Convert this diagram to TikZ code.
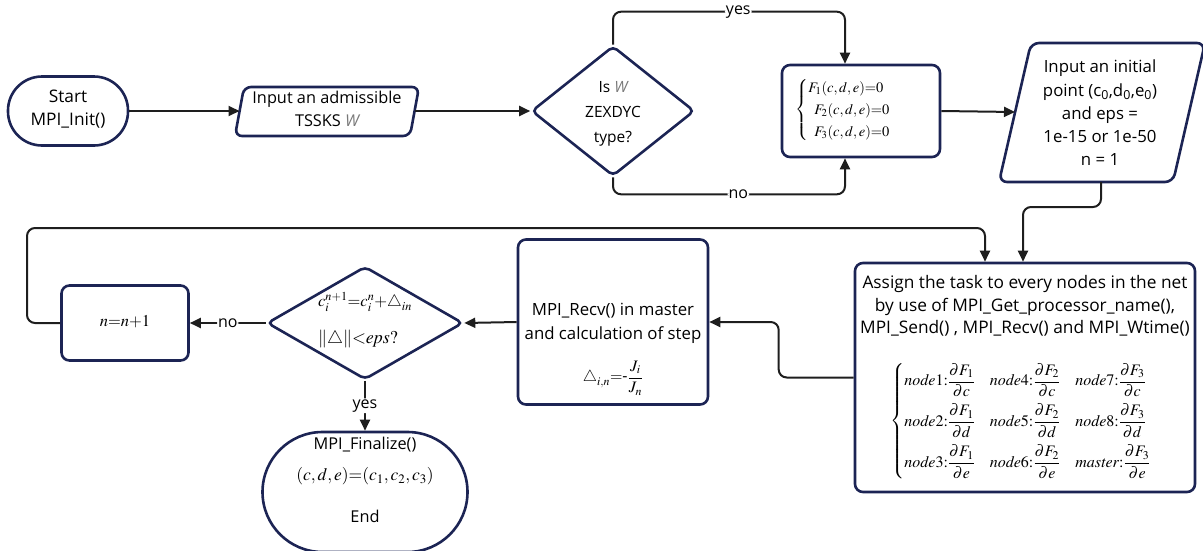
\documentclass[tikz,border=0pt]{standalone}
\usepackage{amsmath}
\usepackage{mathptmx}
\usepackage[no-math]{fontspec}
\setmainfont{Open Sans}
\usetikzlibrary{shapes.geometric,arrows.meta}
\definecolor{navy}{RGB}{28,36,84}
\definecolor{wgray}{RGB}{120,120,120}
\definecolor{lcol}{RGB}{30,30,30}
\tikzset{
  outl/.style={draw=navy,line width=2.6pt},
  rbox/.style={outl,rectangle,rounded corners=8pt,inner sep=0pt},
  dia/.style={outl,diamond,rounded corners=5pt,inner sep=0pt},
  txt/.style={font=\fontsize{16.3}{23}\selectfont,align=center,inner sep=0pt},
  conn/.style={line width=2pt,draw=lcol,rounded corners=8pt},
  arr/.style={conn,-{Triangle[length=11pt,width=10pt]}},
  lab/.style={fill=white,inner sep=1pt,font=\fontsize{16}{18}\selectfont}
}
\newcommand{\gW}{{\color{wgray}\itshape W}}
\newcommand{\tri}{{\bigtriangleup}}
\begin{document}
\begin{tikzpicture}[x=1pt,y=-1pt]
\useasboundingbox (0,0) rectangle (1203,550);
% shapes
\node[rbox,rounded corners=34pt,minimum width=120pt,minimum height=69pt] (start) at (68,111) {};
\node[txt,font=\fontsize{17.3}{23}\selectfont] (starttxt) at (68,109) {Start\\MPI\_Init()};
% parallelogram 1
\coordinate (in1w) at (239.5,111);
\coordinate (in1e) at (414.5,111);
\draw[outl,rounded corners=7pt] (244,87) -- (419,87) -- (410,136) -- (235,136) -- cycle;
\node[txt] (in1) at (327,109) {Input an admissible\\TSSKS \gW};
\node[dia,minimum width=163pt,minimum height=130pt] (dia1) at (613,111) {};
\node[txt,font=\fontsize{15.5}{25}\selectfont] (dia1txt) at (613,114) {Is \gW\\ZEXDYC\\type?};
\node[rbox,minimum width=158pt,minimum height=92pt] (fbox) at (861,111) {};
\node[font=\fontsize{14.5}{16}\selectfont,inner sep=0pt] (ftxt) at (843,110) {$\left\{\renewcommand\arraystretch{1.37}\begin{array}{@{}l@{}}F_1(c,d,e){=}0\\\hspace{6pt}F_2(c,d,e){=}0\\\hspace{6pt}F_3(c,d,e){=}0\end{array}\right.$};
% parallelogram 2
\coordinate (in2w) at (1015,112);
\coordinate (in2s) at (1101,182);
\draw[outl,rounded corners=8pt] (1031,43) -- (1205,43) -- (1173,182) -- (999,182) -- cycle;
\node[txt,font=\fontsize{16.8}{23.3}\selectfont] (in2) at (1100,113) {Input an initial\\point (c\textsubscript{0},d\textsubscript{0},e\textsubscript{0})\\and eps =\\1e-15 or 1e-50\\n = 1};
\node[rbox,minimum width=340pt,minimum height=229pt] (assign) at (1025,377.5) {};
\node[txt,font=\fontsize{17.3}{22.5}\selectfont] (assigntxt) at (1025,306) {Assign the task to every nodes in the net\\by use of MPI\_Get\_processor\_name(),\\MPI\_Send() , MPI\_Recv() and MPI\_Wtime()};
\node[inner sep=0pt,font=\fontsize{16}{17}\selectfont] (assignmath) at (1021,421) {$\left\{\renewcommand\arraystretch{1}\begin{array}{@{}l@{\hspace{15pt}}l@{\hspace{15pt}}l@{}}
\mathit{node}1{:}\dfrac{\partial F_1}{\partial c} & \mathit{node}4{:}\dfrac{\partial F_2}{\partial c} & \mathit{node}7{:}\dfrac{\partial F_3}{\partial c}\\[13pt]
\mathit{node}2{:}\dfrac{\partial F_1}{\partial d} & \mathit{node}5{:}\dfrac{\partial F_2}{\partial d} & \mathit{node}8{:}\dfrac{\partial F_3}{\partial d}\\[13pt]
\mathit{node}3{:}\dfrac{\partial F_1}{\partial e} & \mathit{node}6{:}\dfrac{\partial F_2}{\partial e} & \mathit{master}{:}\dfrac{\partial F_3}{\partial e}
\end{array}\right.$};
\node[rbox,minimum width=190pt,minimum height=165pt] (recv) at (613,322) {};
\node[txt,font=\fontsize{16.8}{24}\selectfont] (recvtxt) at (613,323) {MPI\_Recv() in master\\and calculation of step};
\node[inner sep=0pt,font=\fontsize{16}{18}\selectfont] (recvmath) at (613,378) {$\tri_{i,n}{=}\mbox{-}\dfrac{J_i}{J_n}$};
\node[dia,minimum width=196pt,minimum height=113pt] (dia2) at (365,323) {};
\node[inner sep=0pt,font=\fontsize{16.5}{18}\selectfont] (dia2a) at (365,302) {$c_i^{n+1}{=}c_i^n{+}\tri_{in}$};
\node[inner sep=0pt,font=\fontsize{18}{20}\selectfont] (dia2b) at (358,339) {$\|\tri\|{<}\mathit{eps?}$};
\node[rbox,minimum width=127pt,minimum height=75pt] (nbox) at (125,323) {};
\node[inner sep=0pt,font=\fontsize{16.5}{20}\selectfont] (ntxt) at (125,322) {$n{=}n{+}1$};
\node[rbox,rounded corners=60pt,minimum width=205pt,minimum height=120pt] (fin) at (365,492) {};
\node[txt] (fin1) at (365,445) {MPI\_Finalize()};
\node[inner sep=0pt,font=\fontsize{17.5}{18}\selectfont] (fin2) at (365,476) {$(c,d,e){=}(c_1,c_2,c_3)$};
\node[txt] (fin3) at (365,516) {End};
% connectors
\coordinate (lc) at (27,228);
\draw[arr] (start.east) -- (in1w);
\draw[arr] (in1e) -- (dia1.west);
\draw[arr] (dia1.north) -- ++(0,-33) -| node[lab,pos=0.27]{yes} ([xshift=-16pt]fbox.north);
\draw[arr] (dia1.south) -- ++(0,17) -| node[lab,pos=0.27]{no} ([xshift=-16pt]fbox.south);
\draw[arr] (fbox.east) -- (in2w);
\draw[arr] (in2s) -- ++(0,25) -| ([xshift=-2pt]assign.north);
\draw[arr] (nbox.west) -| (lc) -| ([xshift=-40pt]assign.north);
\draw[arr] (assign.west) -- ++(-75,0) |- (recv.east);
\draw[arr] (recv.west) -- (dia2.east);
\draw[arr] (dia2.west) -- node[lab]{no} (nbox.east);
\draw[arr] (dia2.south) -- node[lab]{yes} (fin.north);
\end{tikzpicture}
\end{document}
